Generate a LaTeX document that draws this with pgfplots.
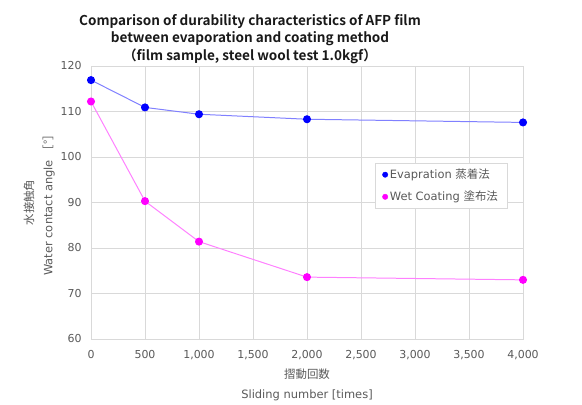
\documentclass[border=0pt]{standalone}
\usepackage{fontspec}
\setmainfont{DejaVu Sans}
\newfontfamily\cjk{Noto Sans CJK JP}[BoldFont={Noto Sans CJK JP Bold}]
\usepackage{pgfplots}
\pgfplotsset{compat=1.18}
\definecolor{tickgray}{HTML}{595959}
\definecolor{gridgray}{HTML}{D9D9D9}
\definecolor{evline}{HTML}{8080FF}
\definecolor{evmark}{HTML}{0000FF}
\definecolor{wcline}{HTML}{FF80FF}
\definecolor{wcmark}{HTML}{FF00FF}
\begin{document}
\begin{tikzpicture}[x=1bp,y=1bp]
\path[use as bounding box] (0,0) rectangle (582,404);
\node[align=center, font=\cjk\bfseries\fontsize{13.6}{17.5}\selectfont, text=black!90] at (250,365)
  {Comparison of durability characteristics of AFP film\\between evaporation and coating method\\（film sample, steel wool test 1.0kgf）};
\begin{axis}[
  at={(91bp,65bp)}, anchor=south west,
  scale only axis, width=432bp, height=273bp,
  xmin=0, xmax=4000, ymin=60, ymax=120,
  xtick={0,500,...,4000}, ytick={60,70,...,120},
  grid=major, grid style={gridgray, line width=0.7pt},
  axis line style={gridgray, line width=0.7pt},
  tick style={draw=none},
  ticklabel style={font=\fontsize{11}{13}\selectfont, text=tickgray},
  /pgf/number format/assume math mode=true,
  /pgf/number format/1000 sep={,},
  y tick label style={xshift=-6bp},
  x tick label style={yshift=-8bp},
  xlabel={{\cjk 摺動回数}\\Sliding number [times]},
  xlabel style={at={(axis description cs:0.5,-0.168)}, anchor=center, align=center, font=\fontsize{11.5}{20}\selectfont, text=tickgray},
  ylabel={{\cjk 水接触角}\\Water contact angle {\cjk ［°］}},
  ylabel style={at={(axis description cs:-0.12,0.5)}, anchor=center, align=center, font=\fontsize{11.5}{19}\selectfont, text=tickgray},
  legend style={at={(axis description cs:0.658,0.645)}, anchor=north west, draw=gridgray, fill=white, font=\fontsize{11.5}{13}\selectfont, text=tickgray, row sep=7bp, inner xsep=7bp, inner ysep=4bp},
  legend cell align=left,
]
\addlegendimage{only marks, mark=*, mark size=2.7bp, color=evmark}
\addlegendentry{Evapration {\cjk 蒸着法}}
\addlegendimage{only marks, mark=*, mark size=2.7bp, color=wcmark}
\addlegendentry{Wet Coating {\cjk 塗布法}}
\addplot[forget plot, color=evline, line width=1pt, mark=*, mark size=3.5bp, mark options={fill=evmark, draw=evmark}]
  coordinates {(0,116.9) (500,110.9) (1000,109.4) (2000,108.3) (4000,107.6)};
\addplot[forget plot, color=wcline, line width=1pt, mark=*, mark size=3.5bp, mark options={fill=wcmark, draw=wcmark}]
  coordinates {(0,112.2) (500,90.3) (1000,81.4) (2000,73.6) (4000,73.0)};
\end{axis}
\end{tikzpicture}
\end{document}
